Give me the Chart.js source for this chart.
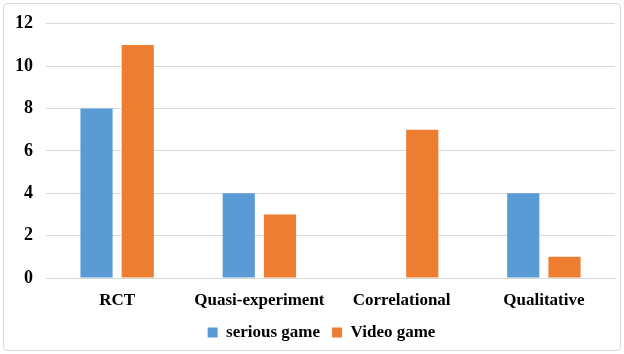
<!DOCTYPE html>
<html>
<head>
<meta charset="utf-8">
<script src="https://cdn.jsdelivr.net/npm/chart.js@4/dist/chart.umd.min.js"></script>
<style>
  html, body { margin: 0; padding: 0; background: #fff; }
  #frame { position: absolute; left: 3px; top: 3px; width: 616px; height: 346px;
           border: 1px solid #d9d9d9; border-radius: 4px; }
  #wrap { position: absolute; left: 0; top: 0; width: 624px; height: 354px; }
</style>
</head>
<body>
<div id="frame"></div>
<div id="wrap"><canvas id="c" width="624" height="354"></canvas></div>
<script>
const categories = ['RCT', 'Quasi-experiment', 'Correlational', 'Qualitative'];
const seriousGame = [8, 4, 0, 4];
const videoGame = [11, 3, 7, 1];
const yTicks = [0, 2, 4, 6, 8, 10, 12];

const font = { family: '"Liberation Serif", "Times New Roman", serif', weight: 'bold' };

// Centre the legend under the plot area rather than the whole canvas.
const legendShift = {
  id: 'legendShift',
  afterLayout(chart) {
    const lg = chart.legend;
    if (lg) { lg.left += 13; lg.right += 13; }
  }
};

new Chart(document.getElementById('c'), {
  type: 'bar',
  data: {
    labels: categories,
    datasets: [
      { label: 'serious game', data: seriousGame, backgroundColor: '#5B9BD5', borderWidth: 0 },
      { label: 'Video game', data: videoGame, backgroundColor: '#ED7D31', borderWidth: 0 }
    ]
  },
  plugins: [legendShift],
  options: {
    responsive: false,
    animation: false,
    datasets: { bar: { categoryPercentage: 0.58, barPercentage: 0.78 } },
    layout: { padding: { left: 2, right: 9, top: 10, bottom: 3 } },
    plugins: {
      legend: {
        position: 'bottom',
        labels: {
          boxWidth: 10, boxHeight: 10, padding: 12, color: '#000',
          font: { ...font, size: 17 }
        }
      },
      tooltip: { enabled: false }
    },
    scales: {
      x: {
        grid: { display: false, drawTicks: false },
        border: { color: '#d9d9d9', width: 1 },
        ticks: { color: '#000', font: { ...font, size: 17 }, padding: 12 },
        afterFit: scale => { scale.height = 34; }
      },
      y: {
        min: 0, max: 12,
        afterBuildTicks: axis => { axis.ticks = yTicks.map(v => ({ value: v })); },
        grid: { color: '#d9d9d9', drawTicks: false },
        border: { display: false },
        ticks: { color: '#000', font: { ...font, size: 18 }, padding: 13 }
      }
    }
  }
});
</script>
</body>
</html>
